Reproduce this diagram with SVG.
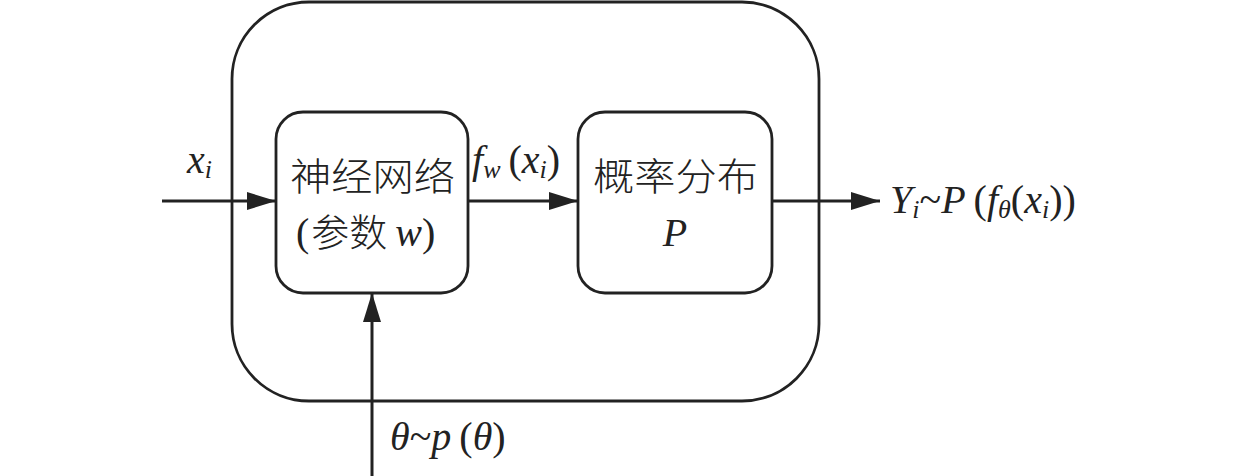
<svg xmlns="http://www.w3.org/2000/svg" width="1260" height="476" viewBox="0 0 1260 476">
<style>
.box{fill:none;stroke:#222;stroke-width:2.8}
.ln{fill:none;stroke:#222;stroke-width:3}
.cjk{font-family:"Noto Sans CJK SC","Liberation Serif",serif;font-size:38px;fill:#222;font-weight:300}
.m{font-family:"Liberation Serif","Times New Roman","DejaVu Serif",serif;font-size:40px;fill:#222}
.it{font-style:italic}
.sub{font-size:26px}
</style>
<defs>
<marker id="ah" markerUnits="userSpaceOnUse" markerWidth="30" markerHeight="20" refX="29" refY="9" orient="auto">
<path d="M0,0 L29,9 L0,18 Z" fill="#222"/>
</marker>
</defs>
<g id="outer"><rect class="box" x="232" y="2" width="587" height="399" rx="77" ry="77"/></g>
<g id="nn">
<rect class="box" x="276" y="112" width="192" height="181" rx="27" ry="27"/>
<text class="cjk" x="290" y="190" textLength="165" lengthAdjust="spacingAndGlyphs">神经网络</text>
<text class="m" x="296" y="246">(<tspan class="cjk" font-size="37" dx="2">参数</tspan><tspan class="it" dx="8">w</tspan>)</text>
</g>
<g id="dist">
<rect class="box" x="578" y="112" width="194" height="181" rx="27" ry="27"/>
<text class="cjk" x="593" y="190" textLength="165" lengthAdjust="spacingAndGlyphs">概率分布</text>
<text class="m it" x="675" y="246" text-anchor="middle">P</text>
</g>
<g id="connectors">
<line class="ln" x1="162" y1="201" x2="276" y2="201" marker-end="url(#ah)"/>
<line class="ln" x1="468" y1="201" x2="578" y2="201" marker-end="url(#ah)"/>
<line class="ln" x1="772" y1="201" x2="880" y2="201" marker-end="url(#ah)"/>
<line class="ln" x1="372" y1="476" x2="372" y2="293" marker-end="url(#ah)"/>
</g>
<g id="labels">
<text class="m it" x="187" y="173">x<tspan class="sub" dy="5">i</tspan></text>
<text class="m it" x="472" y="173">f<tspan class="sub" dy="5">w</tspan><tspan dy="-5" dx="8" font-style="normal">(</tspan>x<tspan class="sub" dy="5">i</tspan><tspan dy="-5" font-style="normal">)</tspan></text>
<text class="m it" x="890" y="213">Y<tspan class="sub" dy="5">i</tspan><tspan dy="-5" font-style="normal">~</tspan>P<tspan dx="8" font-style="normal">(</tspan>f<tspan class="sub" dy="5">θ</tspan><tspan dy="-5" font-style="normal">(</tspan>x<tspan class="sub" dy="5">i</tspan><tspan dy="-5" font-style="normal">))</tspan></text>
<text class="m it" x="390" y="450">θ<tspan font-style="normal">~</tspan>p<tspan dx="8" font-style="normal">(</tspan>θ<tspan font-style="normal">)</tspan></text>
</g>
</svg>
